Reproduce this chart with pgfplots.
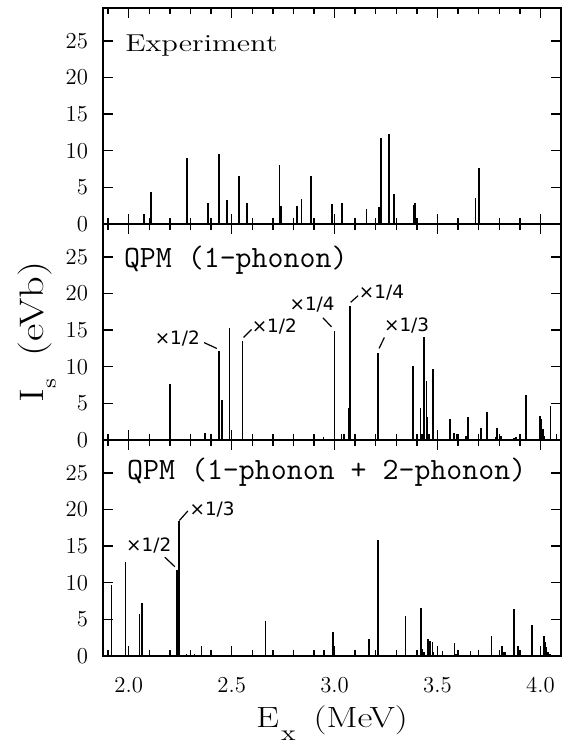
\documentclass[border=0pt]{standalone}
\usepackage{fontspec}
\newfontfamily\wideserif[FakeStretch=1.25]{Latin Modern Roman}
\newfontfamily\annfont{DejaVu Sans}
\usepackage{pgfplots}
\pgfplotsset{compat=1.18}

% common look of the three stacked panels
\pgfplotsset{
  panel/.style={
    scale only axis, width=229pt, height=108pt,
    xmin=1.875, xmax=4.1, ymin=0, ymax=29.5,
    xtick={2.0,2.5,3.0,3.5,4.0},
    minor xtick={1.9,2.1,2.2,2.3,2.4,2.6,2.7,2.8,2.9,3.1,3.2,3.3,3.4,3.6,3.7,3.8,3.9},
    ytick={0,5,10,15,20,25},
    yticklabels={0,5,10,15,20,25},
    xticklabels={},
    tick align=inside, xtick pos=both, ytick pos=both,
    major tick length=5pt, minor tick length=3pt,
    tick style={black, line width=0.7pt},
    axis line style={black, line width=0.9pt},
    tick label style={font=\fontsize{11.4}{13}\selectfont},
    yticklabel style={xshift=-4pt},
    xticklabel style={yshift=-7pt},
    clip=false,
  },
  spikes/.style={ycomb, black, line width=0.85pt, mark=none},
}
\tikzset{
  ann/.style={font=\annfont\fontsize{9.2}{11}\selectfont, inner sep=0pt},
  annline/.style={black, line width=0.6pt},
  ptitle/.style={anchor=base west, inner sep=0pt},
}

\begin{document}
\begin{tikzpicture}
\useasboundingbox (0,0) rectangle (282pt,373.5pt);

% --- Experiment ---
\begin{axis}[panel, at={(51.5pt,261.5pt)}, anchor=south west]
\addplot[spikes] coordinates {
(2.073,1.4) (2.108,4.3) (2.284,9.0) (2.384,2.9) (2.439,9.5) (2.476,3.3)
(2.537,6.5) (2.574,2.8) (2.732,8.1) (2.739,2.5) (2.818,2.4) (2.840,3.4)
(2.885,6.6) (2.987,2.7) (3.035,2.8) (3.155,2.0) (3.216,2.3) (3.224,11.8)
(3.265,12.3) (3.287,4.1) (3.387,2.6) (3.392,2.8) (3.685,3.5) (3.700,7.6)
};
\node[ptitle] at (rel axis cs:0.048,0.80) {\wideserif\fontsize{12.2}{14}\selectfont Experiment};
\end{axis}

% --- QPM 1-phonon ---
\begin{axis}[panel, at={(51.5pt,153.5pt)}, anchor=south west,
  ylabel={\wideserif\fontsize{17}{20}\selectfont I\raisebox{-6pt}{\fontsize{10}{12}\selectfont s}\hspace{11pt}(eVb)},
  ylabel style={at={(axis description cs:-0.144,0.5)}, anchor=center}]
\addplot[spikes] coordinates {
(2.200,7.6) (2.369,1.0) (2.439,12.2) (2.454,5.4) (2.489,15.3) (2.553,13.5)
(2.946,0.4) (3.000,14.9) (3.033,0.8) (3.046,0.8) (3.067,4.4) (3.076,18.3)
(3.210,11.9) (3.380,10.1) (3.418,4.4) (3.425,0.8) (3.436,14.1) (3.446,8.0)
(3.450,3.1) (3.457,0.8) (3.478,9.7) (3.561,2.9) (3.580,0.9) (3.592,0.8)
(3.640,0.6) (3.649,3.1) (3.712,1.6) (3.740,3.8) (3.782,0.4) (3.790,1.6)
(3.807,0.5) (3.870,0.3) (3.880,0.4) (3.900,0.3) (3.930,6.2) (3.997,3.3)
(4.003,2.9) (4.013,1.5) (4.020,0.6) (4.049,4.7) (4.078,0.8)
};
\node[ptitle] at (rel axis cs:0.045,0.80) {\ttfamily\fontsize{15.5}{18}\selectfont QPM (1-phonon)};
\node[ann] at (axis cs:2.236,13.8) {×1/2};
\draw[annline] (axis cs:2.366,13.3) -- (axis cs:2.428,12.5);
\node[ann] at (axis cs:2.707,15.45) {×1/2};
\draw[annline] (axis cs:2.558,14.0) -- (axis cs:2.597,15.1);
\node[ann] at (axis cs:2.891,18.5) {×1/4};
\draw[annline] (axis cs:2.943,16.7) -- (axis cs:2.985,15.45);
\node[ann] at (axis cs:3.228,20.1) {×1/4};
\draw[annline] (axis cs:3.078,18.8) -- (axis cs:3.114,19.7);
\node[ann] at (axis cs:3.350,15.7) {×1/3};
\draw[annline] (axis cs:3.216,12.5) -- (axis cs:3.242,14.0);
\end{axis}

% --- QPM 1-phonon + 2-phonon ---
\begin{axis}[panel, at={(51.5pt,45.5pt)}, anchor=south west,
  xticklabels={2.0,2.5,3.0,3.5,4.0},
  xlabel={\wideserif\fontsize{14.6}{17}\selectfont E\hspace{1pt}\raisebox{-6.5pt}{\fontsize{11}{13}\selectfont x}\hspace{9pt}(MeV)},
  xlabel style={at={(axis description cs:0.5,-0.329)}, anchor=base}]
\addplot[spikes] coordinates {
(1.916,9.7) (1.984,12.8) (2.052,5.7) (2.065,7.3) (2.235,11.7) (2.238,11.7)
(2.243,18.4) (2.280,0.3) (2.300,0.2) (2.320,0.25) (2.353,1.4) (2.380,0.2)
(2.400,0.2) (2.420,0.15) (2.450,0.15) (2.664,4.8) (2.950,0.8) (2.994,3.3)
(3.167,2.3) (3.212,15.8) (3.345,5.5) (3.420,6.5) (3.426,1.0) (3.433,0.6)
(3.455,2.3) (3.462,2.1) (3.475,1.9) (3.481,0.6) (3.524,0.7) (3.582,1.8)
(3.590,0.3) (3.660,0.7) (3.762,2.7) (3.812,1.4) (3.820,0.5) (3.828,0.5)
(3.870,6.4) (3.891,1.4) (3.900,0.4) (3.958,4.2) (4.016,2.7) (4.023,1.9)
(4.029,1.2) (4.036,0.5) (4.045,0.3) (4.099,1.0)
};
\node[ptitle] at (rel axis cs:0.052,0.815) {\ttfamily\fontsize{15.5}{18}\selectfont QPM (1-phonon + 2-phonon)};
\node[ann] at (axis cs:2.405,20.0) {×1/3};
\draw[annline] (axis cs:2.246,18.5) -- (axis cs:2.287,19.8);
\node[ann] at (axis cs:2.097,15.1) {×1/2};
\draw[annline] (axis cs:2.175,13.5) -- (axis cs:2.224,12.2);
\end{axis}
\end{tikzpicture}
\end{document}
